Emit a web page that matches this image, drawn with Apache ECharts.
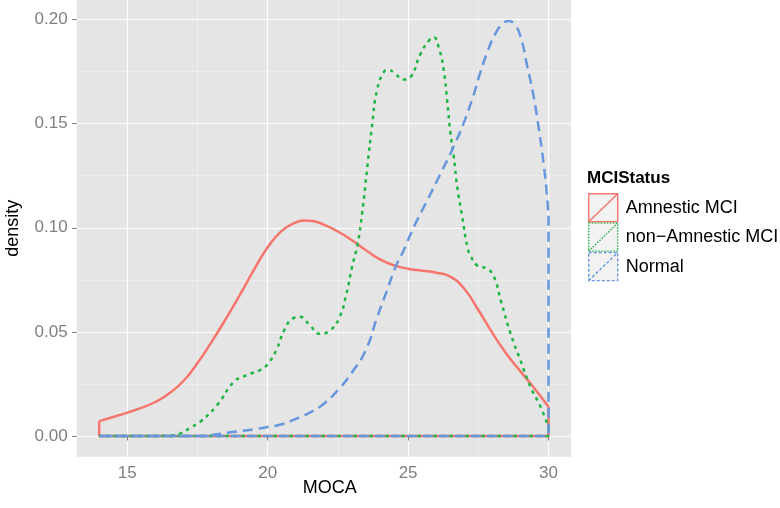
<!DOCTYPE html>
<html>
<head>
<meta charset="utf-8">
<script src="https://cdn.jsdelivr.net/npm/echarts@6/dist/echarts.min.js"></script>
<style>
  html, body { margin: 0; padding: 0; background: #fff; }
  #main { width: 780px; height: 508px; }
</style>
</head>
<body>
<div id="main"></div>
<script>
// density curves, [MOCA, density]
var amnestic = [
  [14, 0.0071], [14.5, 0.0091], [15, 0.0112], [15.5, 0.0135], [16, 0.0163],
  [16.5, 0.0205], [17, 0.0264], [17.5, 0.035], [18, 0.0451], [18.5, 0.056],
  [19, 0.0675], [19.5, 0.0795], [20, 0.0906], [20.5, 0.0985], [21, 0.1026],
  [21.3, 0.1035], [21.6, 0.1032], [22, 0.1015], [22.5, 0.0982], [23, 0.094],
  [23.5, 0.0892], [24, 0.0848], [24.5, 0.0819], [25, 0.0803], [25.5, 0.0794],
  [26, 0.0784], [26.5, 0.0765], [27, 0.0707], [27.5, 0.0605], [28, 0.0495],
  [28.5, 0.0395], [29, 0.031], [29.5, 0.0228], [30, 0.014]
];
var nonAmnestic = [
  [14, 0], [15, 0], [16, 0], [16.5, 0.0002], [16.9, 0.0012], [17.25, 0.004],
  [17.6, 0.0068], [18.2, 0.0148], [18.8, 0.026], [19.25, 0.0292], [19.75, 0.0318],
  [20, 0.0345], [20.3, 0.041], [20.6, 0.051], [20.9, 0.0565], [21.15, 0.0572],
  [21.5, 0.0532], [21.85, 0.0491], [22.2, 0.0505], [22.55, 0.0568], [22.8, 0.068],
  [23, 0.081], [23.2, 0.092], [23.36, 0.1067], [23.56, 0.1307], [23.71, 0.1483],
  [23.89, 0.1659], [24.13, 0.1747], [24.3, 0.1758], [24.5, 0.1745], [24.84, 0.1712],
  [25.08, 0.1723], [25.44, 0.1835], [25.74, 0.1899], [25.91, 0.1915], [26.09, 0.1867],
  [26.27, 0.1755], [26.39, 0.1611], [26.51, 0.1451], [26.63, 0.1339], [26.75, 0.1195],
  [26.93, 0.1051], [27.11, 0.0907], [27.22, 0.0867], [27.46, 0.0819], [27.82, 0.0803],
  [28.06, 0.0763], [28.3, 0.0651], [28.65, 0.0491], [29, 0.0363], [29.36, 0.0235],
  [29.72, 0.0139], [30, 0.004]
];
var normal = [
  [14, 0], [16, 0], [17.5, 0], [18, 0.0005], [18.75, 0.0019], [19.5, 0.0032],
  [20, 0.0043], [20.5, 0.0056], [21, 0.0082], [21.5, 0.0112], [22, 0.0155],
  [22.5, 0.022], [23, 0.0305], [23.5, 0.0415], [23.9, 0.0571], [24.25, 0.0699],
  [24.55, 0.0811], [24.84, 0.0891], [25.2, 0.1003], [25.68, 0.1131], [26.15, 0.1259],
  [26.57, 0.1375], [26.97, 0.150], [27.3, 0.1625], [27.58, 0.175], [27.85, 0.1855],
  [28.1, 0.193], [28.35, 0.1978], [28.57, 0.1993], [28.8, 0.1975], [29.0, 0.192],
  [29.25, 0.1771], [29.43, 0.1659], [29.61, 0.1515], [29.84, 0.1291], [29.96, 0.1131],
  [30, 0.1058]
];

var groupNames = ["Amnestic MCI", "non\u2212Amnestic MCI", "Normal"];
var groupColors = ["#F6766E", "#22B447", "#6797DC"];
var groupDash = ["solid", [3.5, 4.5], [10, 6]];
var keyDash = ["solid", [1.5, 1.5], [3, 2]];
var groupData = [amnestic, nonAmnestic, normal];

var xTicks = [15, 20, 25, 30];
var xMinor = [17.5, 22.5, 27.5];
var yTicks = [0, 0.05, 0.1, 0.15, 0.2];
var yMinor = [0.025, 0.075, 0.125, 0.175];

var FONT = "Liberation Sans, Arial, sans-serif";

// ggplot draws the density as a closed polygon: curve + end edges + baseline
function closure(d) {
  var first = d[0], last = d[d.length - 1];
  return [[last[0], last[1]], [last[0], 0], [first[0], 0], [first[0], first[1]]];
}

var series = [];
for (var i = 0; i < groupData.length; i++) {
  var ls = { color: groupColors[i], width: 2.5, type: groupDash[i], cap: "butt" };
  series.push({
    name: groupNames[i], type: "line", data: groupData[i], smooth: 0.5,
    showSymbol: false, symbol: "none", lineStyle: ls, color: groupColors[i],
    animation: false, z: 3 + i
  });
  series.push({
    name: groupNames[i], type: "line", data: closure(groupData[i]), smooth: false,
    showSymbol: false, symbol: "none", lineStyle: ls, color: groupColors[i],
    animation: false, z: 3 + i
  });
}

var keyIcon = "path://M0,0L30,0L30,29L0,29Z M0,29L30,0";

var chart = echarts.init(document.getElementById("main"), null, { renderer: "canvas" });
chart.setOption({
  backgroundColor: "#ffffff",
  animation: false,
  textStyle: { fontFamily: FONT },
  title: {
    text: "MCIStatus", left: 587, top: 170, padding: 0,
    textStyle: { fontFamily: FONT, fontSize: 17, fontWeight: "bold", color: "#000" }
  },
  legend: {
    orient: "vertical", left: 588, top: 193,
    itemWidth: 29, itemHeight: 28.5, itemGap: 0, padding: 0,
    selectedMode: false,
    textStyle: { fontFamily: FONT, fontSize: 18, color: "#000", padding: [0, 0, 0, 3] },
    data: groupNames.map(function (n, i) {
      return {
        name: n, icon: keyIcon,
        itemStyle: { color: "#F2F2F2", borderColor: groupColors[i], borderWidth: 1.4, borderType: keyDash[i] }
      };
    })
  },
  grid: {
    left: 76.7, right: 209, top: 0, bottom: 51.3,
    outerBoundsMode: "none", containLabel: false,
    show: true, backgroundColor: "#E5E5E5", borderWidth: 0
  },
  xAxis: [{
    type: "value", min: 13.2, max: 30.8, position: "bottom",
    name: "MOCA", nameLocation: "middle", nameGap: 22, nameMoveOverlap: false,
    nameTextStyle: { fontFamily: FONT, fontSize: 18, color: "#000", padding: [0, 0, 0, 12] },
    axisLine: { show: false },
    axisTick: { show: true, length: 4.5, customValues: xTicks, lineStyle: { color: "#7F7F7F", width: 1 } },
    axisLabel: { customValues: xTicks, fontFamily: FONT, fontSize: 17, color: "#7F7F7F", margin: 8 },
    splitLine: { show: true, lineStyle: { color: "#ffffff", width: 1.1 } },
    z: 2
  }, {
    type: "value", min: 13.2, max: 30.8, position: "bottom",
    axisLine: { show: false }, axisLabel: { show: false },
    axisTick: { show: false, customValues: xMinor },
    splitLine: { show: true, lineStyle: { color: "#F2F2F2", width: 0.6 } },
    z: 1
  }],
  yAxis: [{
    type: "value", min: -0.00997, max: 0.2094, position: "left",
    name: "density", nameLocation: "middle", nameGap: 55, nameMoveOverlap: false,
    nameTextStyle: { fontFamily: FONT, fontSize: 18, color: "#000" },
    axisLine: { show: false },
    axisTick: { show: true, length: 4.5, customValues: yTicks, lineStyle: { color: "#7F7F7F", width: 1 } },
    axisLabel: {
      customValues: yTicks, fontFamily: FONT, fontSize: 17, color: "#7F7F7F", margin: 9,
      formatter: function (v) { return v.toFixed(2); }
    },
    splitLine: { show: true, lineStyle: { color: "#ffffff", width: 1.1 } },
    z: 2
  }, {
    type: "value", min: -0.00997, max: 0.2094, position: "left",
    axisLine: { show: false }, axisLabel: { show: false },
    axisTick: { show: false, customValues: yMinor },
    splitLine: { show: true, lineStyle: { color: "#F2F2F2", width: 0.6 } },
    z: 1
  }],
  series: series
});
</script>
</body>
</html>
